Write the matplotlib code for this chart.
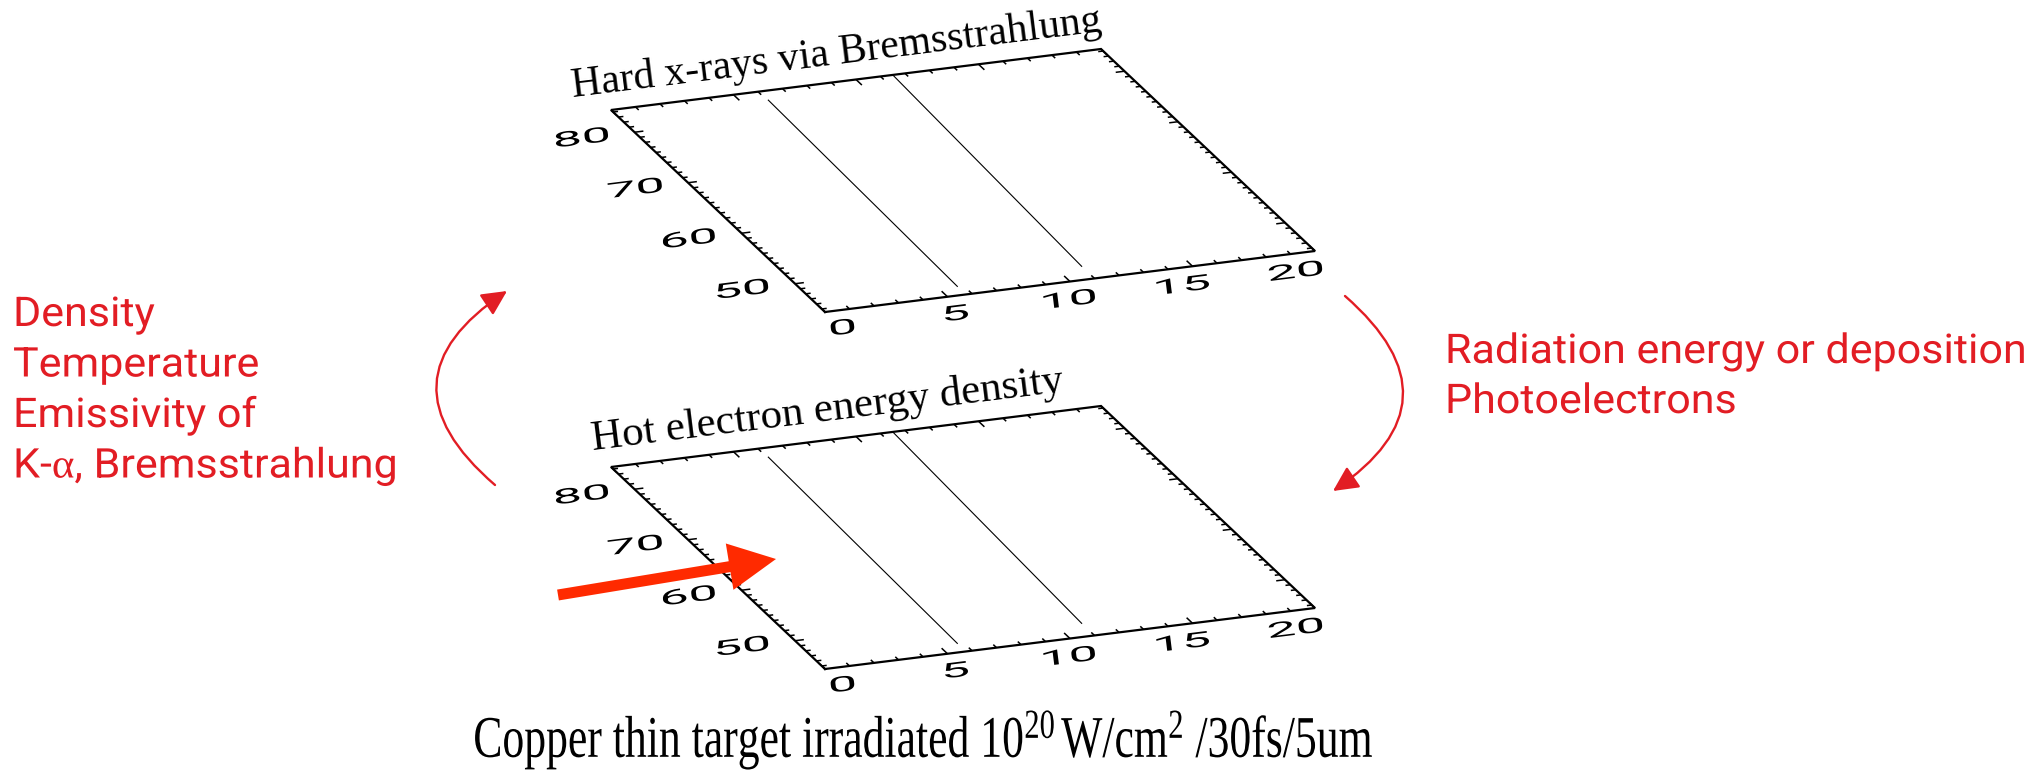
import numpy as np
import matplotlib
matplotlib.use("Agg")
import matplotlib.pyplot as plt
import matplotlib.patheffects as pe
from matplotlib.patches import FancyArrowPatch, FancyArrow
from matplotlib.collections import LineCollection
from matplotlib.transforms import Affine2D

plt.rcParams['mathtext.fontset'] = 'custom'
plt.rcParams['mathtext.rm'] = 'Liberation Serif'
plt.rcParams['mathtext.it'] = 'Liberation Serif:italic'

### axis ranges and ticks of the two IDL boxes (same in both)
x_range = [0, 20]
y_range = [44.4, 84.4]
x_major = [0, 5, 10, 15, 20]
y_major = [50, 60, 70, 80]
x_minor = list(range(0, 21))
y_minor = list(range(45, 85))

### the two lines plotted inside each box
line1_x = [5.75, 6.05]
line1_y = [46.0, 82.7]
line2_x = [11.0, 11.5]
line2_y = [46.8, 84.4]

titles = ["Hard x-rays via Bremsstrahlung", "Hot electron energy density"]
title_pos = [(-0.87, 87.5), (0.0, 87.7)]
title_size = [30, 31]
left_notes = ["Density", "Temperature", "Emissivity of", r"K-$\mathrm{\alpha}$, Bremsstrahlung"]
right_notes = ["Radiation energy or deposition", "Photoelectrons"]
caption = r"Copper thin target irradiated 10$^{20}\,$W/cm$^{2}$ /30fs/5um"

### layout of the slanted boxes in pixels (x right, y down)
box_corner = [(825, 312), (825, 669)]   # lower left corner of each box
x_edge = (490, -61)
y_edge = (-214, -202)

red = '#e21d24'
arrow_red = '#ff2a00'
sans = ['Roboto', 'DejaVu Sans']


class Stretch(pe.AbstractPathEffect):
    """widen / squeeze the glyphs around their own centre"""
    def __init__(self, sx=1.0, sy=1.0):
        super().__init__()
        self.sx, self.sy = sx, sy

    def draw_path(self, renderer, gc, tpath, affine, rgbFace=None):
        bb = tpath.get_extents()
        cx, cy = bb.x0 + bb.width / 2, bb.y0 + bb.height / 2
        sq = Affine2D().translate(-cx, -cy).scale(self.sx, self.sy).translate(cx, cy)
        renderer.draw_path(gc, tpath, sq + affine, rgbFace)


class StretchLeft(Stretch):
    """same, but keep the left end of the line in place"""
    def draw_path(self, renderer, gc, tpath, affine, rgbFace=None):
        sq = Affine2D().scale(self.sx, self.sy)
        renderer.draw_path(gc, tpath, sq + affine, rgbFace)


fig = plt.figure(figsize=(20.44, 7.71), dpi=100)
ax = fig.add_axes([0, 0, 1, 1])
ax.set_xlim(0, 2044)
ax.set_ylim(771, 0)
ax.axis('off')


def box_transform(corner):
    x0, x1 = x_range
    y0, y1 = y_range
    a = x_edge[0] / (x1 - x0)
    b = y_edge[0] / (y1 - y0)
    d = x_edge[1] / (x1 - x0)
    e = y_edge[1] / (y1 - y0)
    m = np.array([[a, b, corner[0] - a * x0 - b * y0],
                  [d, e, corner[1] - d * x0 - e * y0],
                  [0, 0, 1]])
    return Affine2D(m) + ax.transData


x0, x1 = x_range
y0, y1 = y_range

for k in range(2):
    T = box_transform(box_corner[k])
    p0 = T.transform((x0, y0))
    p1 = T.transform((x1, y0))
    ang = np.degrees(np.arctan2(p1[1] - p0[1], p1[0] - p0[0]))

    # box
    ax.plot([x0, x1, x1, x0, x0], [y0, y0, y1, y1, y0], transform=T,
            color='k', lw=1.6, solid_joinstyle='miter')

    # ticks, pointing into the box on all four sides
    segs = []
    for xv in x_minor:
        L = 1.1 if xv in x_major else 0.6
        segs.append([(xv, y0), (xv, y0 + L)])
        segs.append([(xv, y1), (xv, y1 - L)])
    for yv in y_minor:
        L = 0.36 if yv in y_major else 0.2
        segs.append([(x0, yv), (x0 + L, yv)])
        segs.append([(x1, yv), (x1 - L, yv)])
    ax.add_collection(LineCollection(segs, colors='k', linewidths=1.1, transform=T))

    # data lines
    ax.plot(line1_x, line1_y, transform=T, color='k', lw=0.8)
    ax.plot(line2_x, line2_y, transform=T, color='k', lw=0.8)

    # tick labels (IDL vector font, wide and flat)
    for xv in x_major:
        ax.text(xv * 0.925, y0 - 3.3, str(xv), transform=T, rotation=ang,
                rotation_mode='anchor', ha='center', va='center', fontsize=15,
                family=sans, weight='normal', path_effects=[Stretch(2.5, 1.0)])
    for yv in y_major:
        ax.text(x0 - 2.15, yv, str(yv), transform=T, rotation=ang,
                rotation_mode='anchor', ha='center', va='center', fontsize=15,
                family=sans, weight='normal', path_effects=[Stretch(2.5, 1.0)])

    ax.text(title_pos[k][0], title_pos[k][1], titles[k], transform=T, rotation=ang,
            rotation_mode='anchor', ha='left', va='baseline', fontsize=title_size[k],
            family='Liberation Serif')

# red notes
for i, s in enumerate(left_notes):
    ax.text(13, 326 + 50.5 * i, s, ha='left', va='baseline', fontsize=29.5,
            color=red, family=sans, weight='normal', path_effects=[StretchLeft(1.05, 1.0)])
for i, s in enumerate(right_notes):
    ax.text(1445, 363 + 50 * i, s, ha='left', va='baseline', fontsize=29.5,
            color=red, family=sans, weight='normal', path_effects=[StretchLeft(1.05, 1.0)])

# curved arrows
ax.add_patch(FancyArrowPatch((495, 485), (507, 291), connectionstyle='arc3,rad=-0.66',
                             arrowstyle='-|>,head_length=0.85,head_width=0.42',
                             mutation_scale=18, color=red, lw=1.7,
                             shrinkA=0, shrinkB=0))
ax.add_patch(FancyArrowPatch((1345, 296), (1333, 491), connectionstyle='arc3,rad=-0.65',
                             arrowstyle='-|>,head_length=0.85,head_width=0.42',
                             mutation_scale=18, color=red, lw=1.7,
                             shrinkA=0, shrinkB=0))

# laser arrow
ax.add_patch(FancyArrow(558, 595, 218, -36, width=11, head_width=47, head_length=47,
                        length_includes_head=True, color=arrow_red, lw=0, zorder=5))

ax.text(923, 757, caption, ha='center', va='baseline', fontsize=42.5,
        family='Liberation Serif', path_effects=[Stretch(0.74, 1.0)])

fig.savefig('out.png', dpi=100)
